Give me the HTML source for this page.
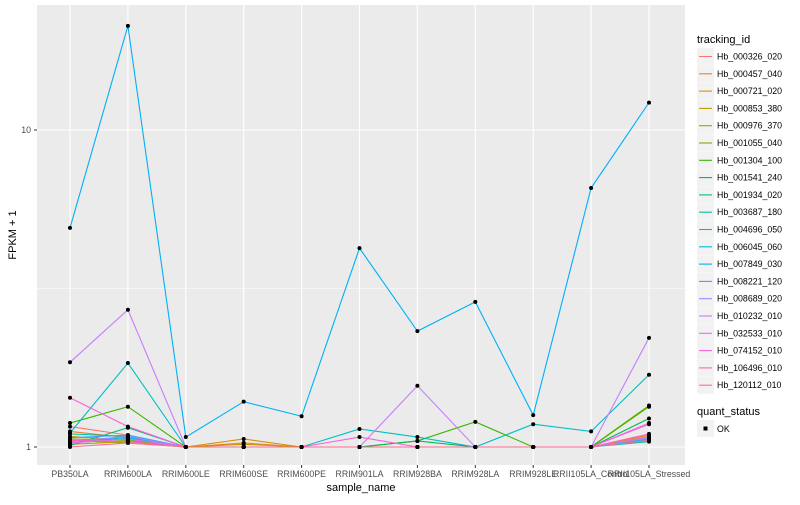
<!DOCTYPE html>
<html><head><meta charset="utf-8">
<style>
body{margin:0;background:#fff;font-family:"Liberation Sans",sans-serif;}
svg text{font-family:"Liberation Sans",sans-serif;}
</style></head>
<body>
<svg width="800" height="500" viewBox="0 0 800 500" id="chart">
<rect x="0" y="0" width="800" height="500" fill="#fff"/>
<rect x="37" y="5" width="648" height="460" fill="#EBEBEB"/>
<g id="grid"></g>
<g id="lines"></g>
<g id="points"></g>
<g id="axes"></g>
<g id="legend"></g>
<text x="361" y="491" font-size="11" text-anchor="middle" fill="#000">sample_name</text>
<text transform="translate(16,235) rotate(-90)" font-size="11" text-anchor="middle" fill="#000">FPKM + 1</text>
</svg>
<script>
const categories=["PB350LA","RRIM600LA","RRIM600LE","RRIM600SE","RRIM600PE","RRIM901LA","RRIM928BA","RRIM928LA","RRIM928LE","RRII105LA_Control","RRII105LA_Stressed"];
const ids=["Hb_000326_020","Hb_000457_040","Hb_000721_020","Hb_000853_380","Hb_000976_370","Hb_001055_040","Hb_001304_100","Hb_001541_240","Hb_001934_020","Hb_003687_180","Hb_004696_050","Hb_006045_060","Hb_007849_030","Hb_008221_120","Hb_008689_020","Hb_010232_010","Hb_032533_010","Hb_074152_010","Hb_106496_010","Hb_120112_010"];
const colors=["#F8766D","#EA8331","#D89000","#C09B00","#A3A500","#7CAE00","#39B600","#00BB4E","#00BF7D","#00C1A3","#00BFC4","#00BAE0","#00B0F6","#35A2FF","#9590FF","#C77CFF","#E76BF3","#FA62DB","#FF62BC","#FF6C91"];
const s00=[1.16,1.09,1,1,1,1,1,1,1,1,1.08];
const s01=[1.12,1.07,1,1.03,1,1,1,1,1,1,1.09];
const s02=[1.08,1.05,1,1.06,1,1,1,1,1,1,1.07];
const s03=[1.05,1.03,1,1.02,1,1,1,1,1,1,1.06];
const s04=[1.02,1.04,1,1,1,1,1,1,1,1,1.35];
const s05=[1.06,1.05,1,1,1,1,1,1,1,1,1.34];
const s06=[1.19,1.34,1,1,1,1,1.045,1.2,1,1,1.35];
const s07=[1.03,1.06,1,1,1,1,1.045,1,1,1,1.23];
const s08=[1.01,1.15,1,1,1,1,1,1,1,1,1.05];
const s09=[1.1,1.08,1,1,1,1,1,1,1,1,1.04];
const s10=[1.107,1.84,1,1,1,1.14,1.075,1,1.18,1.12,1.69];
const s11=[1.04,1.07,1,1,1,1,1,1,1,1,1.05];
const s12=[4.91,21.3,1.075,1.39,1.25,4.24,2.32,2.87,1.26,6.56,12.2];
const s13=[1.07,1.09,1,1,1,1,1,1,1,1,1.06];
const s14=[1.04,1.08,1,1,1,1,1,1,1,1,1.07];
const s15=[1.85,2.71,1,1,1,1,1.56,1,1,1,2.21];
const s16=[1.03,1.06,1,1,1,1,1,1,1,1,1.18];
const s17=[1.43,1.16,1,1,1,1.075,1,1,1,1,1.19];
const s18=[1.05,1.04,1,1,1,1,1,1,1,1,1.1];
const s19=[1.0,1.03,1,1,1,1,1,1,1,1,1.05];
const series=[s00,s01,s02,s03,s04,s05,s06,s07,s08,s09,s10,s11,s12,s13,s14,s15,s16,s17,s18,s19];
const yTicks=[1,10];
const yTickLabels=["1","10"];
const yMinor=[Math.sqrt(10)];

const NS="http://www.w3.org/2000/svg";
const xScale=i=>70+i*57.9;
const yScale=v=>447-317*Math.log10(v);
function mk(tag,attrs,parent){const e=document.createElementNS(NS,tag);for(const k in attrs)e.setAttribute(k,attrs[k]);document.getElementById(parent).appendChild(e);return e;}

yMinor.forEach(v=>{const l=mk('line',{x1:37,x2:685,y1:yScale(v),y2:yScale(v),stroke:'#fff','stroke-width':0.55},'grid');

});
yTicks.forEach((v,i)=>{const l=mk('line',{x1:37,x2:685,y1:yScale(v),y2:yScale(v),stroke:'#fff','stroke-width':1.1},'grid');


const t=mk('text',{x:31,y:yScale(v)+3,'font-size':8.8,'text-anchor':'end',fill:'#4D4D4D'},'axes');t.textContent=yTickLabels[i];


const tk=mk('line',{x1:34,x2:37,y1:yScale(v),y2:yScale(v),stroke:'#333','stroke-width':1},'axes');

});
categories.forEach((c,i)=>{const l=mk('line',{x1:xScale(i),x2:xScale(i),y1:5,y2:465,stroke:'#fff','stroke-width':1.1},'grid');


const tk=mk('line',{x1:xScale(i),x2:xScale(i),y1:465,y2:468,stroke:'#333','stroke-width':1},'axes');


const t=mk('text',{x:xScale(i),y:477,'font-size':8.8,'text-anchor':'middle',fill:'#4D4D4D'},'axes');t.textContent=c;

});

series.forEach((s,k)=>{const p=mk('polyline',{points:s.map((v,i)=>xScale(i)+','+yScale(v)).join(' '),fill:'none',stroke:colors[k],'stroke-width':1.1},'lines');


s.forEach((v,i)=>{const c=mk('circle',{cx:xScale(i),cy:yScale(v),r:2,fill:'#000'},'points');

});});

const lt=mk('text',{x:697,y:43,'font-size':11,fill:'#000'},'legend');lt.textContent='tracking_id';


ids.forEach((id,k)=>{const y=48+k*17.3;
const r=mk('rect',{x:697,y:y,width:17,height:17,fill:'#F2F2F2'},'legend');


const l=mk('line',{x1:699,x2:712,y1:y+8.5,y2:y+8.5,stroke:colors[k],'stroke-width':1.1},'legend');


const t=mk('text',{x:717,y:y+11.5,'font-size':8.8,fill:'#000'},'legend');t.textContent=id;

});
const qt=mk('text',{x:697,y:415,'font-size':11,fill:'#000'},'legend');qt.textContent='quant_status';


const qr=mk('rect',{x:697,y:420,width:17,height:17,fill:'#F2F2F2'},'legend');


const qp=mk('rect',{x:703.5,y:426.5,width:4,height:4,fill:'#000'},'legend');


const qx=mk('text',{x:717,y:432,'font-size':8.8,fill:'#000'},'legend');qx.textContent='OK';


</script>
</body></html>
